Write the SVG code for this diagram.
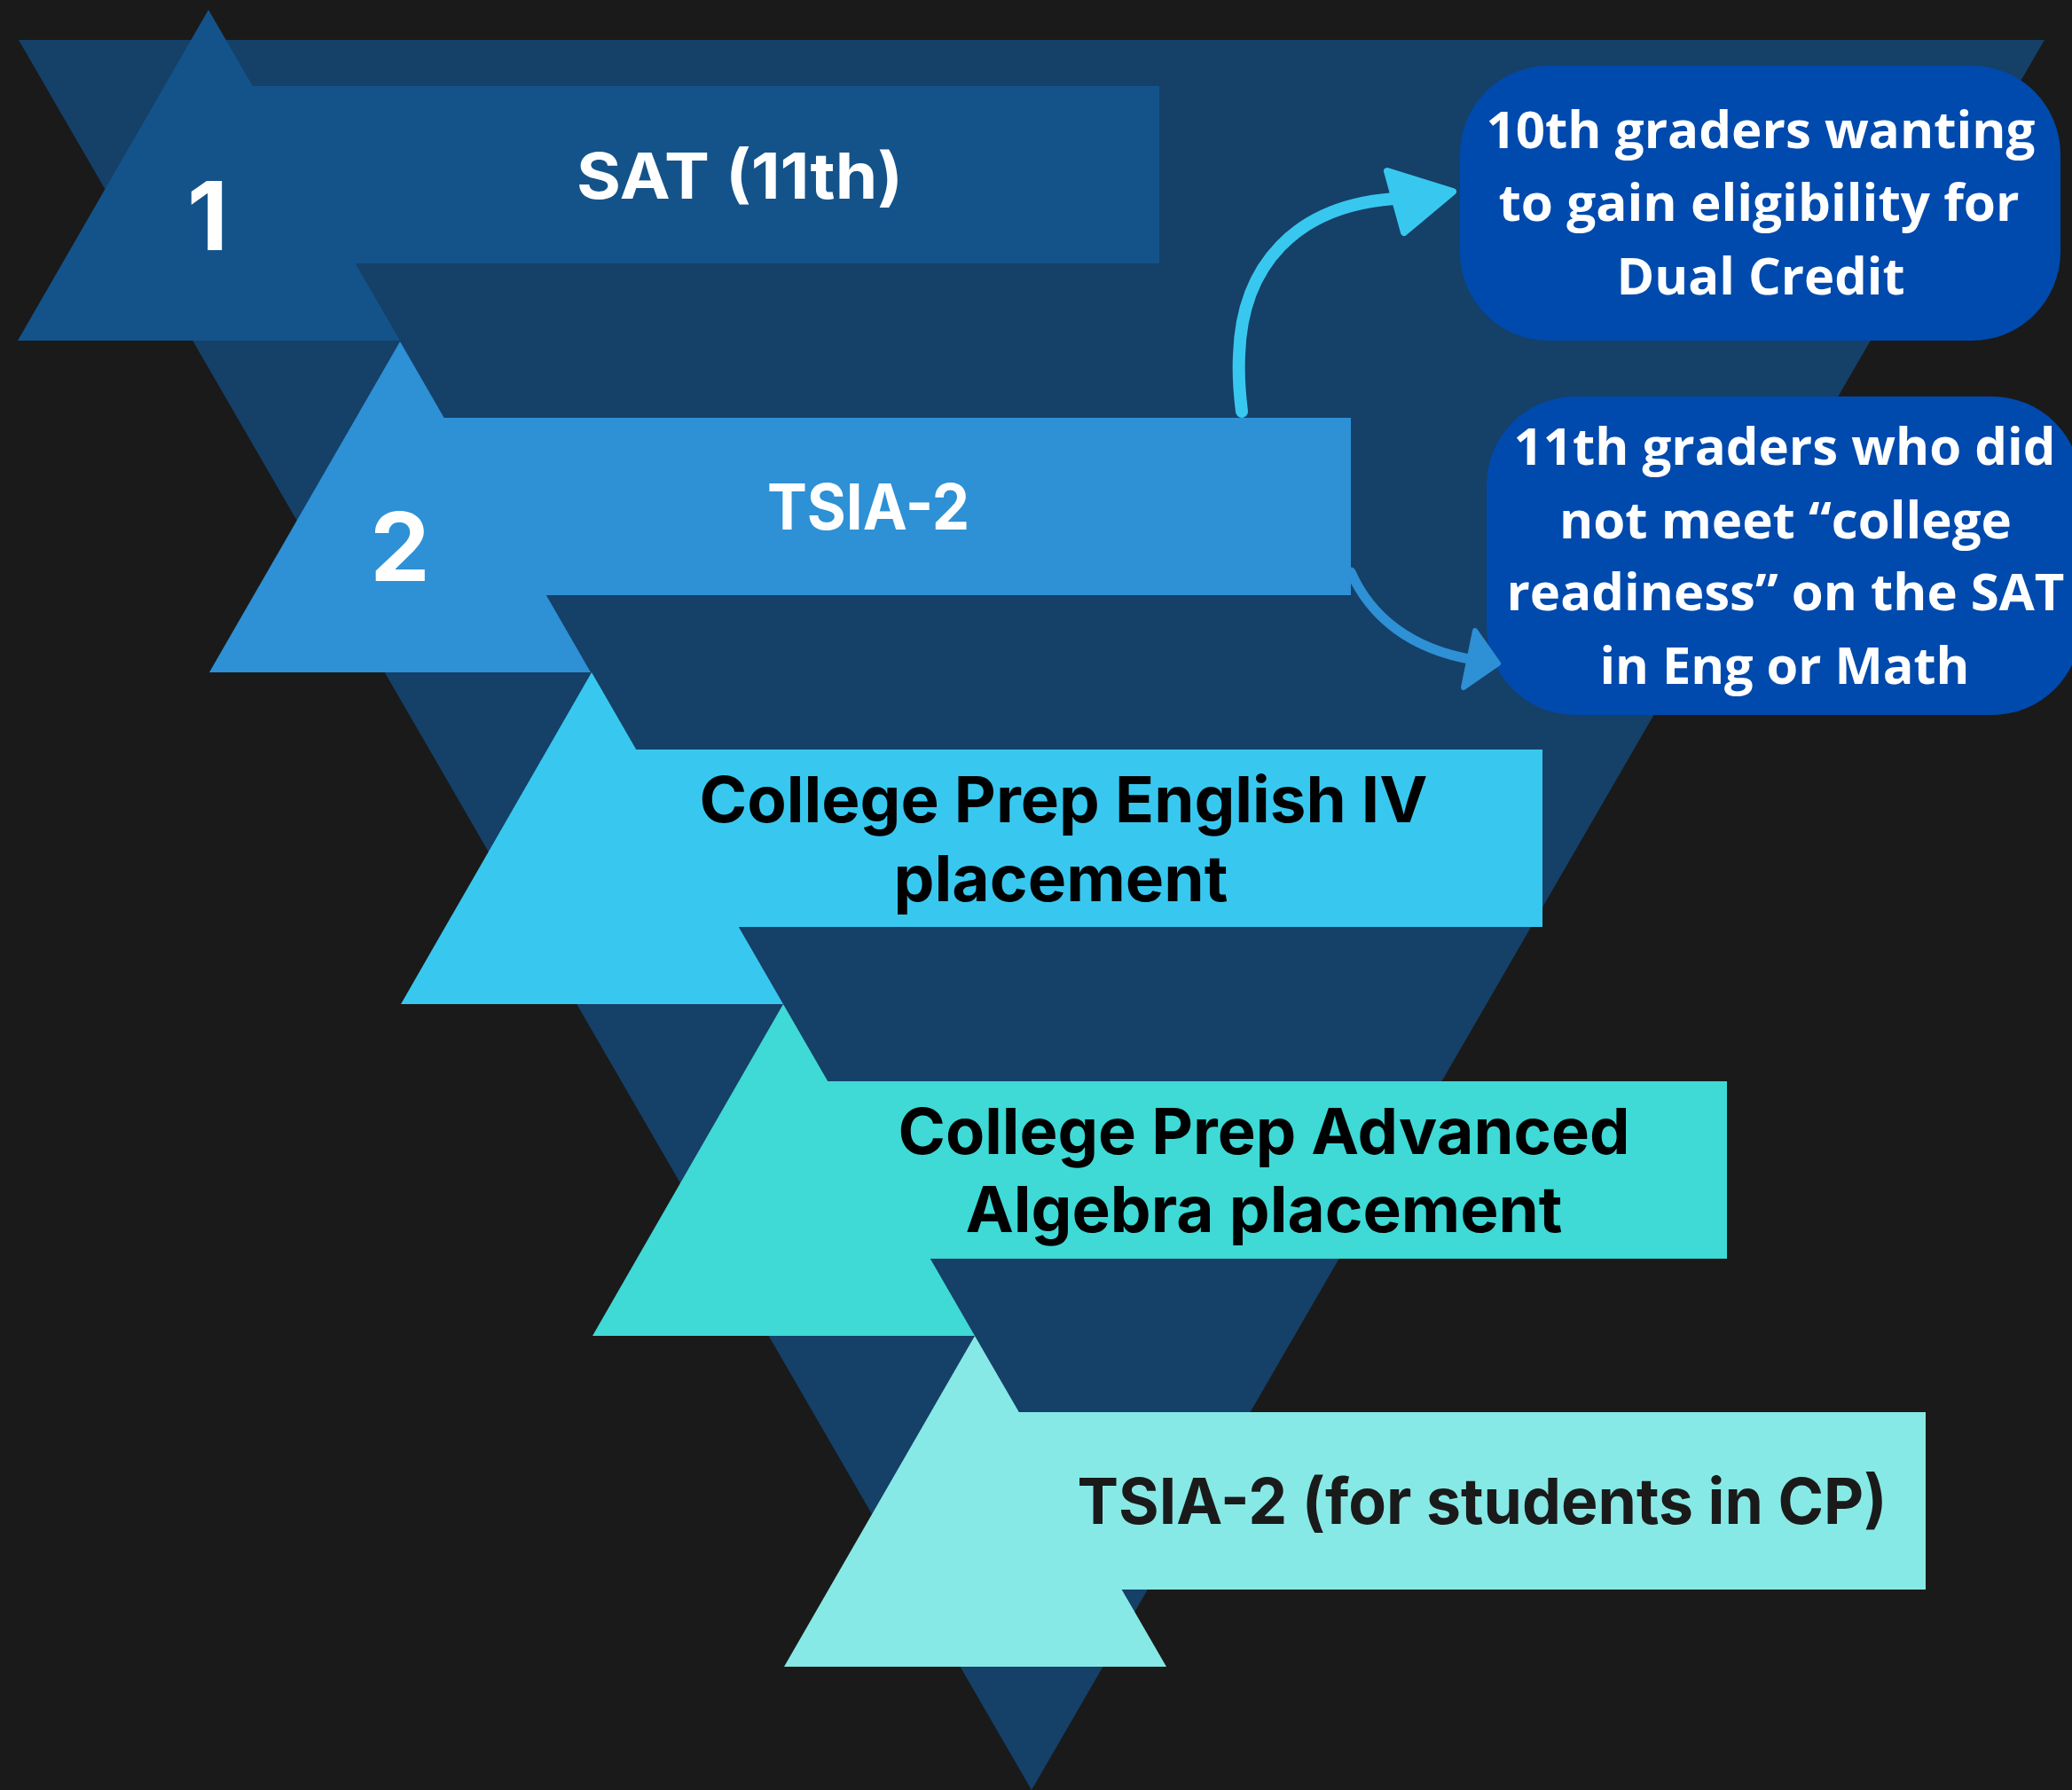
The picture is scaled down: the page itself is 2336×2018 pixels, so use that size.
<svg xmlns="http://www.w3.org/2000/svg" width="2336" height="2018" viewBox="0 0 2336 2018">
<style>
.step{font-family:Inter,"Liberation Sans",sans-serif;font-weight:700;text-anchor:middle}
.num{font-family:Inter,"Liberation Sans",sans-serif;font-weight:700;font-size:107px;fill:#ffffff;text-anchor:middle}
.box{font-family:"Open Sans","Liberation Sans",sans-serif;font-weight:700;font-size:58px;fill:#ffffff;text-anchor:middle}
.bubble{fill:#004AAD}
</style>
<rect width="2336" height="2018" fill="#1a1a1a"/>
<polygon id="funnel" points="21,45 2305,45 1163,2018" fill="#154068"/>
<g id="step1">
<polygon points="235,11 451,384 20,384" fill="#14538A"/>
<rect x="235" y="97" width="1072" height="200" fill="#14538A"/>
<text class="num" x="234" y="282">1</text>
<text class="step" x="834" y="224" font-size="72" fill="#ffffff" textLength="368" lengthAdjust="spacingAndGlyphs">SAT (11th)</text>
</g>
<g id="step2">
<polygon points="451,385 666,758 236,758" fill="#2E90D5"/>
<rect x="451" y="471" width="1072" height="200" fill="#2E90D5"/>
<text class="num" x="451" y="655">2</text>
<text class="step" x="979" y="597" font-size="72" fill="#ffffff" textLength="228" lengthAdjust="spacingAndGlyphs">TSIA-2</text>
</g>
<g id="step3">
<polygon points="667,758 883,1132 452,1132" fill="#38C8EF"/>
<rect x="667" y="845" width="1072" height="200" fill="#38C8EF"/>
<text class="step" x="1199" y="927" font-size="72" fill="#000000" textLength="821" lengthAdjust="spacingAndGlyphs">College Prep English IV</text>
<text class="step" x="1196" y="1016" font-size="72" fill="#000000" textLength="377" lengthAdjust="spacingAndGlyphs">placement</text>
</g>
<g id="step4">
<polygon points="883,1132 1099,1506 668,1506" fill="#3FD9D6"/>
<rect x="883" y="1219" width="1064" height="200" fill="#3FD9D6"/>
<text class="step" x="1425" y="1301" font-size="72" fill="#000000" textLength="825" lengthAdjust="spacingAndGlyphs">College Prep Advanced</text>
<text class="step" x="1425" y="1389" font-size="72" fill="#000000" textLength="673" lengthAdjust="spacingAndGlyphs">Algebra placement</text>
</g>
<g id="step5">
<polygon points="1099,1506 1315,1879 884,1879" fill="#87E9E6"/>
<rect x="1099" y="1592" width="1072" height="200" fill="#87E9E6"/>
<text class="step" x="1671" y="1718" font-size="72" fill="#1a1a1a" textLength="913" lengthAdjust="spacingAndGlyphs">TSIA-2 (for students in CP)</text>
</g>
<g id="box-10th">
<rect class="bubble" x="1646" y="74" width="677" height="310" rx="100" ry="100"/>
<text class="box" x="1985" y="167" textLength="619" lengthAdjust="spacingAndGlyphs">10th graders wanting</text>
<text class="box" x="1983" y="249" textLength="587" lengthAdjust="spacingAndGlyphs">to gain eligibility for</text>
<text class="box" x="1985" y="332" textLength="325" lengthAdjust="spacingAndGlyphs">Dual Credit</text>
</g>
<g id="box-11th">
<rect class="bubble" x="1676" y="447" width="670" height="359" rx="100" ry="100"/>
<text class="box" x="2012" y="524" textLength="611" lengthAdjust="spacingAndGlyphs">11th graders who did</text>
<text class="box" x="2013" y="607" textLength="510" lengthAdjust="spacingAndGlyphs">not meet “college</text>
<text class="box" x="2013" y="688" textLength="629" lengthAdjust="spacingAndGlyphs">readiness” on the SAT</text>
<text class="box" x="2012" y="771" textLength="417" lengthAdjust="spacingAndGlyphs">in Eng or Math</text>
</g>
<g id="connectors" fill="none" stroke-linecap="round" stroke-linejoin="round">
<path d="M1400,464 C1397,440 1396,420 1397,400 C1400,300 1460,232 1572,224" stroke="#38C8EF" stroke-width="14"/>
<polygon points="1564,193 1638,216 1583,262" fill="#38C8EF" stroke="#38C8EF" stroke-width="8"/>
<path d="M1523,645 C1545,695 1590,732 1662,744" stroke="#2E90D5" stroke-width="11"/>
<polygon points="1663,711 1689,748 1650,775" fill="#2E90D5" stroke="#2E90D5" stroke-width="6"/>
</g>
</svg>
